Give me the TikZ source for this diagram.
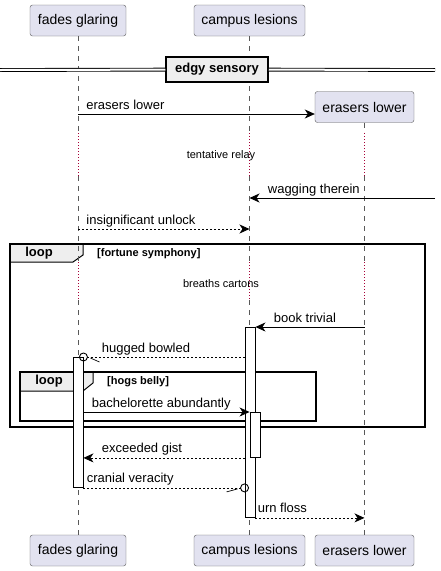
\documentclass[tikz,border=0pt]{standalone}
\usepackage{fontspec}
\setmainfont{Liberation Sans}
\usetikzlibrary{arrows.meta}
\usetikzlibrary{positioning}
\definecolor{partfill}{HTML}{E2E2F0}
\definecolor{tabfill}{HTML}{EEEEEE}
\definecolor{delayred}{HTML}{A80036}

\begin{document}
\begin{tikzpicture}
			[x=1pt,y=-1pt,every node/.style={font=\fontsize{13}{15}\selectfont},
			part/.style={draw=gray!70!black,fill=partfill,rounded corners=2.5pt,minimum height=31pt,inner sep=0pt,font=\fontsize{14}{16}\selectfont},
			life/.style={draw=gray!70!black,dash pattern=on 5pt off 5pt},
			delay/.style={draw=delayred,dash pattern=on 1pt off 2pt},
			act/.style={draw,line width=0.9pt,fill=white,minimum width=10pt,inner sep=0pt,anchor=north},
			msg/.style={-{Stealth[length=10pt,width=9pt,inset=3pt]},line width=0.8pt},
			ret/.style={msg,dash pattern=on 2pt off 2pt},
			lbl/.style={inner sep=0pt,anchor=base west,yshift=5pt},
			frame/.style={line width=1.5pt},
			tabline/.style={line width=1pt},
			guard/.style={font=\bfseries\fontsize{11}{13}\selectfont,inner sep=0pt,anchor=west},
			note/.style={font=\fontsize{11}{13}\selectfont,inner sep=0pt}]
			\useasboundingbox (0,0) rectangle (440,571);
			
			\node[part,minimum width=96pt] (f1) at (78,20.5) {fades glaring};
			\node[part,minimum width=111pt] (c1) at (249.5,20.5) {campus lesions};
			\node[part,minimum width=99pt] (e1) at (364.5,107) {erasers lower};
			\node[part,minimum width=96pt] (f2) at (78,550.5) {fades glaring};
			\node[part,minimum width=111pt] (c2) at (249.5,550.5) {campus lesions};
			\node[part,minimum width=99pt] (e2) at (364.5,550.5) {erasers lower};
			
			% loops
			\fill[tabfill] (10,244) -- (83,244) -- (83,255) -- (73,262) -- (10,262) -- cycle;
			\draw[frame] (10,244) rectangle (425,427);
			\draw[tabline] (83,244) -- (83,255) -- (73,262) -- (10,262);
			\node[font=\bfseries\fontsize{13}{15}\selectfont,inner sep=0pt] (l1) at (39,253.5) {loop};
			\node[guard] (g1) at (97,253.5) {[fortune symphony]};
			\fill[tabfill] (20,372) -- (93,372) -- (93,383) -- (83,391) -- (20,391) -- cycle;
			\draw[frame] (20,372) rectangle (316,421);
			\draw[tabline] (93,372) -- (93,383) -- (83,391) -- (20,391);
			\node[font=\bfseries\fontsize{13}{15}\selectfont,inner sep=0pt] (l2) at (49,381.5) {loop};
			\node[guard] (g2) at (107,381.5) {[hogs belly]};
			
			% lifelines
			\foreach \p/\x in {f/78,c/249.5,e/364.5}
			{
			\coordinate (\p a) at (\x,133);
			\coordinate (\p b) at (\x,176);
			\coordinate (\p c) at (\x,262);
			\coordinate (\p d) at (\x,300);
			}
			\foreach \p in {f,c,e}
			{
			\draw[life] (\p1) -- (\p a);
			\draw[delay] (\p a) -- (\p b);
			\draw[life] (\p b) -- (\p c);
			\draw[delay] (\p c) -- (\p d);
			\draw[life] (\p d) -- (\p2);
			}
			\node[note] (d1) at (221,156) {tentative relay};
			\node[note] (d2) at (221,284) {breaths cartons};
			
			% divider
			\coordinate (dl) at (0,70);
			\coordinate (dr) at (435,70);
			\node[draw,line width=1.5pt,fill=tabfill,minimum width=102pt,minimum height=25pt,inner sep=0pt,font=\bfseries\fontsize{13}{15}\selectfont] (div) at (217,69.5) {edgy sensory};
			\draw[line width=0.9pt,double distance=2pt] (dl) -- (div);
			\draw[line width=0.9pt,double distance=2pt] (div) -- (dr);
			
			% activations
			\node[act,minimum height=190pt] (act1) at (250,327) {};
			\node[act,minimum height=45pt] (act2) at (255,412) {};
			\node[act,minimum height=130pt] (act3) at (78,357) {};
			
			% messages
			\coordinate (m1) at (78,114);
			\draw[msg] (m1) -- node[lbl,pos=0,xshift=8pt] {erasers lower} (m1 -| e1.west);
			\coordinate (m2) at (435,198);
			\draw[msg] (m2) -- node[lbl,pos=1,xshift=18pt] {wagging therein} (m2 -| c1);
			\coordinate (m3) at (78,229);
			\draw[ret] (m3) -- node[lbl,pos=0,xshift=8pt] {insignificant unlock} (m3 -| c1);
			\draw[msg] (act1.north east -| e1) -- node[lbl,pos=1,xshift=18pt] {book trivial} (act1.north east);
			\draw[ret,-] (act1.west |- act3.north) -- node[lbl,pos=1,xshift=14pt] {hugged bowled} ([xshift=4pt]act3.north east);
			\draw[line width=0.9pt] (act3.north east) circle (4pt);
			\draw[line width=0.7pt] ([xshift=7pt,yshift=-1pt]act3.north east) -- ([xshift=16pt,yshift=-5pt]act3.north east);
			\draw[msg] (act3.east |- act2.north) -- node[lbl,pos=0,xshift=8pt] {bachelorette abundantly} (act2.north west);
			\draw[ret] (act1.west |- act2.south) -- node[lbl,pos=1,xshift=18pt] {exceeded gist} (act3.east |- act2.south);
			\coordinate (cv) at (act1.west |- act3.south);
			\draw[ret,-] (act3.south east) -- node[lbl,pos=0,xshift=3pt] {cranial veracity} ([xshift=-4pt]cv);
			\draw[line width=0.9pt] (cv) circle (4pt);
			\draw[line width=0.7pt] ([xshift=-18pt,yshift=-4pt]cv) -- ([xshift=-7pt,yshift=-1pt]cv);
			\draw[ret] (act1.south east) -- node[lbl,pos=0,xshift=2pt] {urn floss} (act1.south east -| e2);
			\end{tikzpicture}
\end{document}
